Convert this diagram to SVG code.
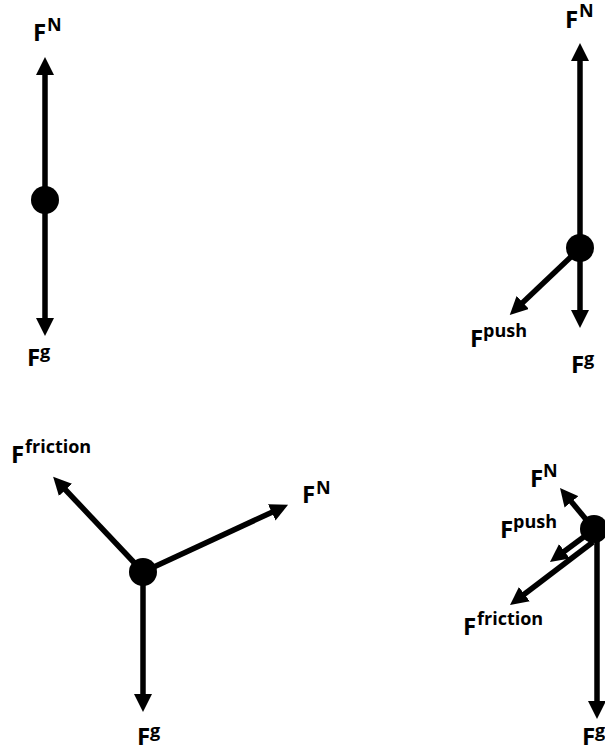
<svg xmlns="http://www.w3.org/2000/svg" width="605" height="748" viewBox="0 0 605 748">
<style>
.f{stroke:#000;stroke-width:5.5;fill:none;marker-end:url(#ah)}
.dot{fill:#000}
text{font-family:"Open Sans","Liberation Sans",sans-serif;font-weight:bold;font-size:24px;fill:#000}
.s{font-size:18px}
</style>
<defs>
<marker id="ah" markerUnits="userSpaceOnUse" markerWidth="18" markerHeight="18" refX="8" refY="9" orient="auto">
<path d="M0,0 L18,9 L0,18 z" fill="#000"/>
</marker>
</defs>
<rect width="605" height="748" fill="#fff"/>
<g id="connectors">
<line class="f" x1="45" y1="200" x2="45" y2="67"/>
<line class="f" x1="45" y1="200" x2="45" y2="326"/>
<line class="f" x1="580" y1="248" x2="580" y2="53"/>
<line class="f" x1="580" y1="248" x2="580" y2="318"/>
<line class="f" x1="575" y1="253" x2="517" y2="308"/>
<line class="f" x1="143" y1="572" x2="60" y2="484"/>
<line class="f" x1="143" y1="572" x2="279" y2="509"/>
<line class="f" x1="143" y1="572" x2="143" y2="702"/>
<line class="f" x1="594" y1="529" x2="566.4" y2="495.7"/>
<line class="f" x1="585" y1="536" x2="558" y2="556"/>
<line class="f" x1="593" y1="542" x2="518" y2="599"/>
<line class="f" x1="597" y1="529" x2="597" y2="709"/>
</g>
<g id="body1"><circle class="dot" cx="45" cy="200" r="14"/>
<text x="33" y="41">F<tspan class="s" x="47" y="31">N</tspan></text>
<text x="27" y="366">F<tspan class="s" x="40" y="358">g</tspan></text>
</g>
<g id="body2"><circle class="dot" cx="580" cy="248" r="14"/>
<text x="565" y="28">F<tspan class="s" x="579" y="17">N</tspan></text>
<text x="470" y="347">F<tspan class="s" x="483" y="337">push</tspan></text>
<text x="571" y="373">F<tspan class="s" x="584" y="365">g</tspan></text>
</g>
<g id="body3"><circle class="dot" cx="143" cy="572" r="14"/>
<text x="11" y="463">F<tspan class="s" x="25" y="453">friction</tspan></text>
<text x="302" y="503">F<tspan class="s" x="316" y="494">N</tspan></text>
<text x="137" y="745">F<tspan class="s" x="150" y="737">g</tspan></text>
</g>
<g id="body4"><circle class="dot" cx="594" cy="529" r="14"/>
<text x="530" y="487">F<tspan class="s" x="543" y="477">N</tspan></text>
<text x="500" y="538">F<tspan class="s" x="513" y="528">push</tspan></text>
<text x="463" y="635">F<tspan class="s" x="477" y="625">friction</tspan></text>
<text x="582" y="745">F<tspan class="s" x="595" y="737">g</tspan></text>
</g>
</svg>
